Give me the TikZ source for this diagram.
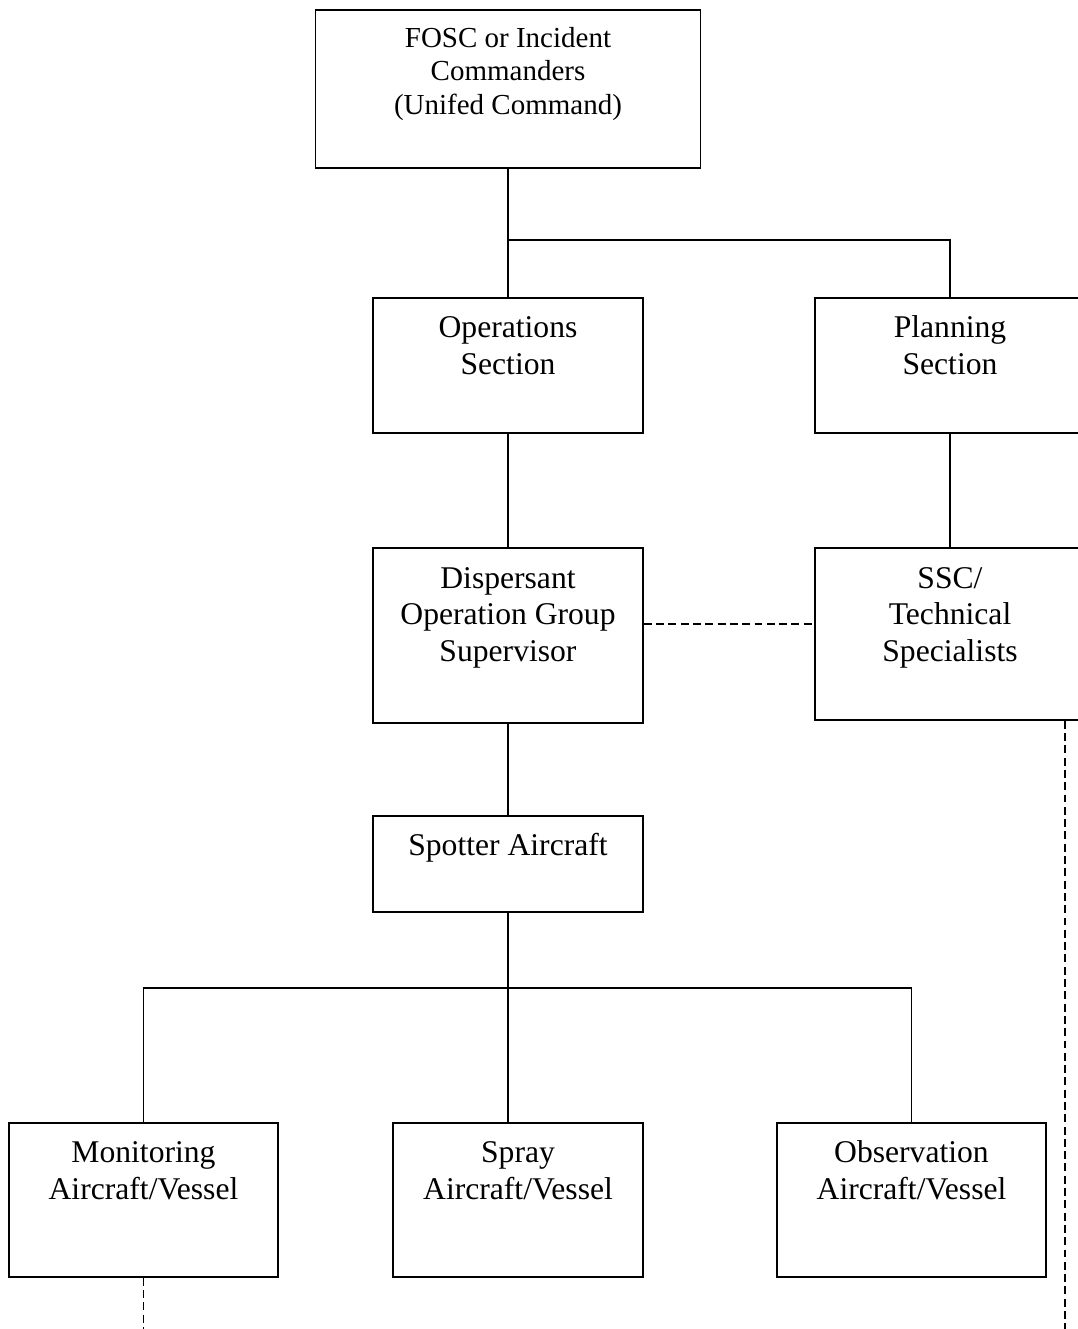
\documentclass[tikz,border=0pt]{standalone}
\usepackage{fontspec}
\setmainfont{Liberation Serif}
\usepackage{tikz}
\usetikzlibrary{positioning,calc}

\begin{document}
\begin{tikzpicture}[
    x=0.02cm, y=-0.02cm,
    box/.style={draw, line width=1pt, inner sep=0pt, anchor=north, align=center,
                font=\fontsize{18}{21}\selectfont},
    topbox/.style={box, font=\fontsize{16.5}{19}\selectfont},
    link/.style={line width=1pt},
    dashlink/.style={line width=1pt, dash pattern=on 4.5pt off 2.5pt},
]
\clip (0,0) rectangle (1078,1329);

% ─────────────────────────────────────────
% Command level
% ─────────────────────────────────────────
\node[topbox, minimum width=7.7cm, text height=2.09cm, text depth=1.07cm] (fosc) at (508,9)
    {FOSC or Incident\\Commanders\\(Unifed Command)};

% ─────────────────────────────────────────
% Sections
% ─────────────────────────────────────────
\node[box, minimum width=5.4cm, text height=1.54cm, text depth=1.16cm] (ops) at (508,297) {Operations\\Section};
\node[box, minimum width=5.4cm, text height=1.54cm, text depth=1.16cm] (plan) at (950,297) {Planning\\Section};

\node[box, minimum width=5.4cm, text height=2.28cm, text depth=1.22cm] (disp) at (508,547)
    {Dispersant\\Operation Group\\Supervisor};
\node[box, minimum width=5.4cm, text height=2.28cm, text depth=1.16cm] (ssc) at (950,547)
    {SSC/\\Technical\\Specialists};

\node[box, minimum width=5.4cm, text height=0.8cm, text depth=1.12cm] (spot) at (508,815) {Spotter Aircraft};

% Field units
\node[box, minimum width=5.38cm, text height=1.54cm, text depth=1.54cm] (mon) at (143.5,1122) {Monitoring\\Aircraft/Vessel};
\node[box, minimum width=5.0cm, text height=1.54cm, text depth=1.54cm] (spray) at (518,1122) {Spray\\Aircraft/Vessel};
\node[box, minimum width=5.38cm, text height=1.54cm, text depth=1.54cm] (obs) at (911.5,1122) {Observation\\Aircraft/Vessel};

% ─────────────────────────────────────────
% Connectors
% ─────────────────────────────────────────
\coordinate (split1) at (508,240);
\coordinate (split2) at (508,988);
\coordinate (monend) at (143.5,1340);
\coordinate (sscend) at (1065,1340);

\draw[link] (fosc.south) -- (ops.north);
\draw[link] (split1) -| (plan.north);
\draw[link] (ops.south) -- (disp.north);
\draw[link] (plan.south) -- (ssc.north);
\draw[link] (disp.south) -- (spot.north);

\draw[link] (spot.south) -- (split2);
\draw[link] (mon.north) |- (split2) -| (obs.north);
\draw[link] (split2) -- (split2 |- spray.north);

% dashed links
\draw[dashlink] ([yshift=0.23cm]disp.east) -- ([yshift=0.23cm]disp.east -| ssc.west);
\draw[dashlink] (mon.south) -- (monend);
\draw[dashlink] (sscend |- ssc.south) -- (sscend);

\end{tikzpicture}
\end{document}
